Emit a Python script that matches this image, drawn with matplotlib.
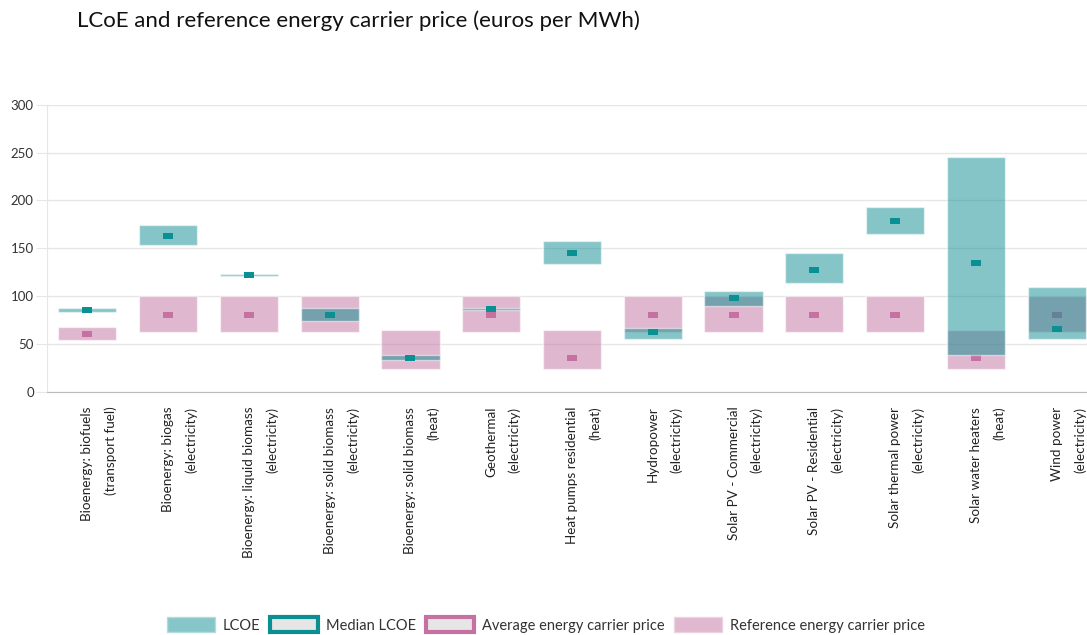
import matplotlib
matplotlib.use("Agg")
import matplotlib.pyplot as plt
from matplotlib.patches import Patch
from matplotlib.transforms import blended_transform_factory, ScaledTranslation
import numpy as np

# ---------------- data ----------------
label_line1 = ["Bioenergy: biofuels", "Bioenergy: biogas", "Bioenergy: liquid biomass",
               "Bioenergy: solid biomass", "Bioenergy: solid biomass", "Geothermal",
               "Heat pumps residential", "Hydropower", "Solar PV - Commercial",
               "Solar PV - Residential", "Solar thermal power", "Solar water heaters",
               "Wind power"]
label_line2 = ["(transport fuel)", "(electricity)", "(electricity)", "(electricity)",
               "(heat)", "(electricity)", "(heat)", "(electricity)", "(electricity)",
               "(electricity)", "(electricity)", "(heat)", "(electricity)"]

lcoe_low = [83, 153, 121, 74, 33, 85, 134, 55, 90, 114, 165, 38, 55]
lcoe_high = [88, 174, 123, 88, 38, 88, 158, 67, 105, 145, 193, 245, 109]
lcoe_median = [85, 163, 121.5, 80, 35.5, 86.5, 144.5, 62, 97.5, 127.5, 178.5, 135, 66]
ref_low = [54, 62, 62, 62, 24, 62, 24, 62, 62, 62, 62, 24, 62]
ref_high = [68, 100, 100, 100, 64, 100, 64, 100, 100, 100, 100, 64, 100]
avg_price = [60, 80, 80, 80, 35, 80, 35, 80, 80, 80, 80, 35, 80]

y_ticks = [0, 50, 100, 150, 200, 250, 300]

# ---------------- style ----------------
plt.rcParams['font.family'] = ['Lato', 'DejaVu Sans']
TEAL = "#0D8D91"
PINK = "#C1719F"
TEAL_MED = "#0A9093"
PINK_AVG = "#C572A2"
GRID = "#E6E6E6"

W, H = 1087, 635
fig = plt.figure(figsize=(W / 100, H / 100), dpi=100)
left_px, right_px, top_px, bot_px = 47, 1097, 104.7, 391.7
ax = fig.add_axes([left_px / W, (H - bot_px) / H, (right_px - left_px) / W, (bot_px - top_px) / H])

x = np.arange(len(label_line1))
ref_low_a = np.array(ref_low)
ref_high_a = np.array(ref_high)
lcoe_low_a = np.array(lcoe_low)
lcoe_high_a = np.array(lcoe_high)

bw = 0.72
ax.bar(x, ref_high_a - ref_low_a, bottom=ref_low_a, width=bw, color=PINK, alpha=0.5,
       edgecolor=(1, 1, 1, 0.7), linewidth=1, zorder=2)

rect_marker = [(-1.5, -1), (1.5, -1), (1.5, 1), (-1.5, 1), (-1.5, -1)]
ax.plot(x, avg_price, linestyle="none", marker=rect_marker, ms=6.5, color=PINK_AVG,
        markeredgewidth=0, zorder=3)

ax.bar(x, lcoe_high_a - lcoe_low_a, bottom=lcoe_low_a, width=bw, color=TEAL, alpha=0.5,
       edgecolor=(1, 1, 1, 0.7), linewidth=1, zorder=4)
ax.plot(x, lcoe_median, linestyle="none", marker=rect_marker, ms=6.5, color=TEAL_MED,
        markeredgewidth=0, zorder=5)

ax.set_xlim(-0.5, len(x) - 0.5)
ax.set_ylim(0, 300)
ax.set_yticks(y_ticks)
ax.set_yticklabels([str(v) for v in y_ticks])
ax.yaxis.grid(True, color=GRID, linewidth=1, zorder=0)
ax.set_axisbelow(True)
ax.tick_params(axis='y', length=8, color=GRID, pad=1.5, labelsize=9.5, labelcolor="#333333")
ax.set_xticks([])
for s in ["top", "right"]:
    ax.spines[s].set_visible(False)
ax.spines["left"].set_color(GRID)
ax.spines["bottom"].set_color("#BBBBBB")
ax.spines["bottom"].set_zorder(6)

# x labels: rotated, first line centered at category, second line to its right
base = blended_transform_factory(ax.transData, ax.transAxes)
for i in x:
    t1 = base + ScaledTranslation(0, -15 / 100, fig.dpi_scale_trans)
    t2 = base + ScaledTranslation(23 / 100, -15 / 100, fig.dpi_scale_trans)
    ax.text(i, 0, label_line1[i], rotation=90, ha="center", va="top", fontsize=9.7,
            color="#222222", transform=t1, clip_on=False)
    ax.text(i, 0, label_line2[i], rotation=90, ha="center", va="top", fontsize=9.7,
            color="#222222", transform=t2, clip_on=False)

fig.text(77 / W, 1 - 10 / H, "LCoE and reference energy carrier price (euros per MWh)",
         ha="left", va="top", fontsize=16, color="#111111")

handles = [
    Patch(facecolor="#86C6C8", edgecolor="#B5DCDD", linewidth=1),
    Patch(facecolor="#E6E6E6", edgecolor=TEAL_MED, linewidth=3),
    Patch(facecolor="#E6E6E6", edgecolor=PINK_AVG, linewidth=3),
    Patch(facecolor="#E0B8CF", edgecolor="#ECD3E1", linewidth=1),
]
labels = ["LCOE", "Median LCOE", "Average energy carrier price", "Reference energy carrier price"]
fig.legend(handles, labels, loc="center", bbox_to_anchor=(546 / W, 1 - 625 / H), ncol=4,
           frameon=False, fontsize=10.5, handlelength=3.3, handleheight=1.15,
           handletextpad=0.55, columnspacing=0.65, labelcolor="#333333")

fig.savefig("out.png", dpi=100)
